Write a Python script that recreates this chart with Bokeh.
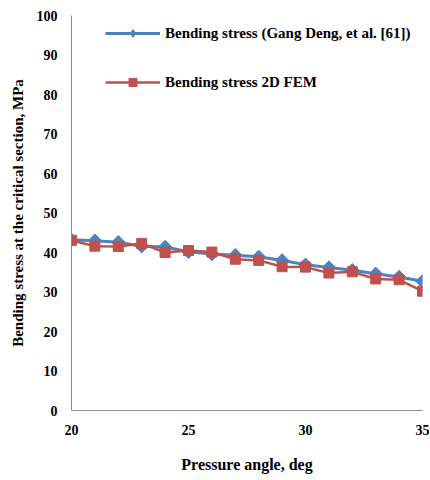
import math
from bokeh.plotting import figure
from bokeh.models import Legend, LegendItem, Range1d, FixedTicker
from bokeh.embed import file_html
from bokeh.resources import INLINE

angle = [20, 21, 22, 23, 24, 25, 26, 27, 28, 29, 30, 31, 32, 33, 34, 35]
stress_deng = [43.2, 43.0, 42.6, 41.6, 41.4, 40.2, 39.6, 39.3, 38.9, 38.0, 36.9, 36.2, 35.5, 34.6, 33.8, 32.7]
stress_fem = [43.1, 41.6, 41.5, 42.3, 40.0, 40.5, 40.1, 38.3, 38.0, 36.4, 36.3, 34.8, 35.1, 33.3, 33.1, 30.2]
x_ticks = [20, 25, 30, 35]
y_ticks = [0, 10, 20, 30, 40, 50, 60, 70, 80, 90, 100]

FONT = "Liberation Serif"
BLUE = "#4F81BD"
RED = "#C0504D"

p = figure(width=430, height=480, output_backend="svg", toolbar_location=None,
           x_range=Range1d(20, 35), y_range=Range1d(0, 100),
           min_border_left=71, min_border_right=8, min_border_top=15, min_border_bottom=70)
p.outline_line_color = None
p.grid.grid_line_color = None

for ax in (p.xaxis[0], p.yaxis[0]):
    ax.axis_line_color = "#8c8c8c"
    ax.axis_line_width = 1
    ax.major_tick_line_color = None
    ax.minor_tick_line_color = None
    ax.major_tick_out = 0
    ax.major_tick_in = 0
    ax.major_label_text_font = FONT
    ax.major_label_text_font_style = "bold"
    ax.major_label_text_font_size = "14px"
    ax.major_label_text_color = "#000000"
    ax.axis_label_text_font = FONT
    ax.axis_label_text_font_style = "bold"
    ax.axis_label_text_color = "#000000"

p.xaxis.axis_label_text_font_size = "16px"
p.yaxis.axis_label_text_font_size = "15px"
p.xaxis.ticker = FixedTicker(ticks=x_ticks)
p.yaxis.ticker = FixedTicker(ticks=y_ticks)
p.xaxis.major_label_standoff = 14
p.yaxis.major_label_standoff = 14
p.xaxis.axis_label = "Pressure angle, deg"
p.xaxis.axis_label_standoff = 18
p.yaxis.axis_label = "Bending stress at the critical section, MPa"
p.yaxis.axis_label_standoff = 8

l1 = p.line(angle, stress_deng, line_color=BLUE, line_width=3)
s1 = p.scatter(angle, stress_deng, marker="square", angle=math.pi / 4, size=9.5,
               fill_color=BLUE, line_color=BLUE)
l2 = p.line(angle, stress_fem, line_color=RED, line_width=2.5)
s2 = p.scatter(angle, stress_fem, marker="square", size=10, fill_color=RED, line_color=RED)

# legend-only marker glyphs (hidden in the plot, drawn in the legend)
lg1 = p.scatter(angle, stress_deng, marker="diamond", size=12, fill_color=BLUE, line_color=BLUE,
                visible=False)
lg2 = p.scatter(angle, stress_fem, marker="square", size=8, fill_color=RED, line_color=RED,
                visible=False)

legend = Legend(items=[
    LegendItem(label="Bending stress (Gang Deng, et al. [61])", renderers=[l1, lg1]),
    LegendItem(label="Bending stress 2D FEM", renderers=[l2, lg2]),
], location=(34, 318), padding=0, margin=0, spacing=29,
    glyph_width=55, glyph_height=20, label_standoff=5,
    label_text_font=FONT, label_text_font_style="bold", label_text_font_size="15px",
    label_text_color="#000000", border_line_color=None, background_fill_alpha=0)
p.add_layout(legend, "center")

open("out.html", "w").write(file_html(p, INLINE))
